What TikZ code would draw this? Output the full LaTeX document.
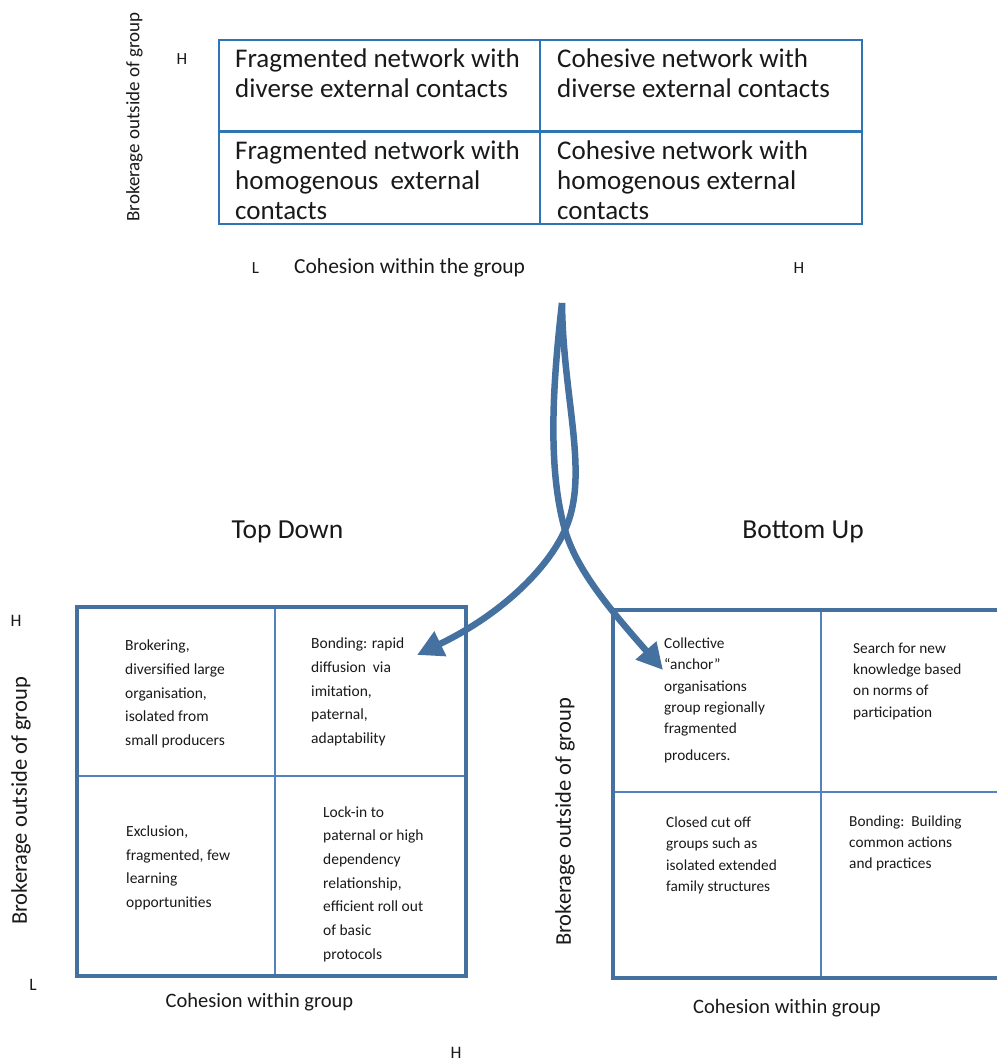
\documentclass[tikz,border=0pt]{standalone}
\usepackage{fontspec}
\setmainfont{Carlito}
\usetikzlibrary{arrows.meta}
\definecolor{tblue}{RGB}{46,117,182}
\definecolor{sblue}{RGB}{68,113,160}
\definecolor{lblue}{RGB}{84,130,190}
\definecolor{txt}{RGB}{25,25,25}
\tikzset{
  tcell/.style={anchor=west,align=left,inner sep=0pt,text=txt,font=\fontsize{27}{30}\selectfont},
  lcell/.style={anchor=west,align=left,inner sep=0pt,text=txt,font=\fontsize{15.5}{23.7}\selectfont},
  rcell/.style={anchor=west,align=left,inner sep=0pt,text=txt,font=\fontsize{15.3}{21.3}\selectfont},
  axl/.style={inner sep=0pt,text=txt},
  flow/.style={draw=sblue,line width=6.5pt,-{Triangle[length=26pt,width=26pt]}},
  outer/.style={draw=sblue,line width=4.5pt},
  inner/.style={draw=lblue,line width=1.5pt},
}
\begin{document}
\begin{tikzpicture}[x=1pt,y=-1pt]
\useasboundingbox (0,0) rectangle (997,1064);
% ---------------- top table ----------------
\draw[tblue,line width=2.8pt] (219,40) rectangle (862,224);
\draw[tblue,line width=2.8pt] (540,40) -- (540,224);
\draw[tblue,line width=2.8pt] (219,131.5) -- (862,131.5);
\node[tcell] (t11) at (235,73.3) {Fragmented network with\\diverse external contacts};
\node[tcell] (t12) at (557,73.3) {Cohesive network with\\diverse external contacts};
\node[tcell] (t21) at (235,180) {Fragmented network with\\homogenous\ \ external\\contacts};
\node[tcell] (t22) at (557,180) {Cohesive network with\\homogenous external\\contacts};
\node[axl,font=\fontsize{17}{20}\selectfont] (tH) at (182,59) {H};
\node[axl,font=\fontsize{17}{20}\selectfont] (tL) at (255.5,268) {L};
\node[axl,font=\fontsize{17}{20}\selectfont] (tH2) at (799,268) {H};
\node[axl,anchor=west,font=\fontsize{21.5}{24}\selectfont] (tcoh) at (294,268) {Cohesion within the group};
\node[axl,rotate=90,font=\fontsize{19}{22}\selectfont] (tbro) at (134.5,117) {Brokerage outside of group};
% ---------------- titles ----------------
\node[axl,font=\fontsize{27.5}{30}\selectfont] (td) at (287.5,532) {Top Down};
\node[axl,font=\fontsize{27.5}{30}\selectfont] (bu) at (803,532) {Bottom Up};
% ---------------- bottom-left box ----------------
\draw[inner] (275,607) -- (275,976);
\draw[inner] (77,776) -- (466,776);
\draw[outer] (77,607) rectangle (466,976);
\node[lcell] (l11) at (125,694) {Brokering,\\diversified large\\organisation,\\isolated from\\small producers};
\node[lcell] (l12) at (311,692) {Bonding: rapid\\diffusion\ \ via\\imitation,\\paternal,\\adaptability};
\node[lcell] (l21) at (126,868) {Exclusion,\\fragmented, few\\learning\\opportunities};
\node[lcell] (l22) at (323,884) {Lock-in to\\paternal or high\\dependency\\relationship,\\efficient roll out\\of basic\\protocols};
\node[axl,font=\fontsize{17.5}{20}\selectfont] (lH) at (16,621) {H};
\node[axl,font=\fontsize{17.5}{20}\selectfont] (lL) at (33,985) {L};
\node[axl,font=\fontsize{17.5}{20}\selectfont] (lH2) at (456,1053) {H};
\node[axl,rotate=90,font=\fontsize{22.5}{24}\selectfont] (lbro) at (21,801) {Brokerage outside of group};
\node[axl,font=\fontsize{20.5}{24}\selectfont] (lcoh) at (259.5,1002) {Cohesion within group};
% ---------------- bottom-right box ----------------
\draw[inner] (821,610) -- (821,978);
\draw[inner] (613,792) -- (997,792);
\draw[outer] (997,610) -- (613,610) -- (613,978) -- (997,978);
\node[rcell] (r11) at (664,700.5) {Collective\\``anchor''\\organisations\\group regionally\\fragmented\\[5.5pt]producers.};
\node[rcell] (r12) at (853,681) {Search for new\\knowledge based\\on norms of\\participation};
\node[rcell] (r21) at (666,855.5) {Closed cut off\\groups such as\\isolated extended\\family structures};
\node[rcell] (r22) at (849,843.5) {Bonding:\ \ Building\\common actions\\and practices};
\node[axl,rotate=90,font=\fontsize{22.5}{24}\selectfont] (rbro) at (565,822) {Brokerage outside of group};
\node[axl,font=\fontsize{20.5}{24}\selectfont] (rcoh) at (787,1008) {Cohesion within group};
% ---------------- arrows ----------------
\coordinate (src) at (562,303);
\coordinate (cross) at (565,530);
\coordinate (tipL) at (417,655);
\coordinate (tipR) at (663,670);
\draw[flow] (src) .. controls (563,400) and (590,475) .. (cross)
  .. controls (547,570) and (500,615) .. (tipL);
\draw[flow] (src) .. controls (552,390) and (548,470) .. (cross)
  .. controls (577,572) and (615,615) .. (tipR);
\end{tikzpicture}
\end{document}
